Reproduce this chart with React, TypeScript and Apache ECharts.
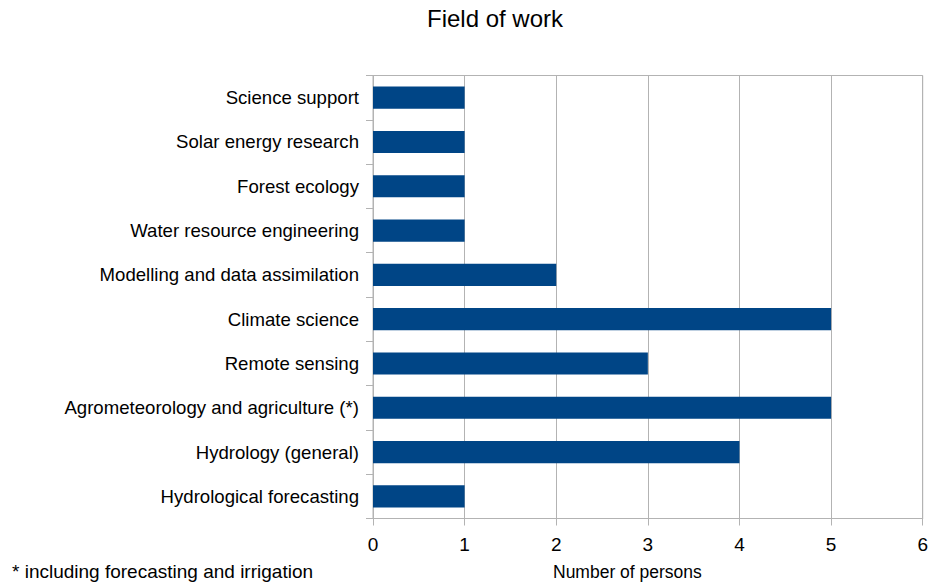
import React, { useEffect, useRef } from "react";
import * as echarts from "echarts";

const categories = [
  "Hydrological forecasting",
  "Hydrology (general)",
  "Agrometeorology and agriculture (*)",
  "Remote sensing",
  "Climate science",
  "Modelling and data assimilation",
  "Water resource engineering",
  "Forest ecology",
  "Solar energy research",
  "Science support",
];
const persons = [1, 4, 5, 3, 5, 2, 1, 1, 1, 1];

const FONT = "Liberation Sans, Arial, sans-serif";

export default function App() {
  const ref = useRef<HTMLDivElement>(null);
  useEffect(() => {
    if (!ref.current) return;
    const chart = echarts.init(ref.current, undefined, { renderer: "svg" });
    chart.setOption({
      animation: false,
      backgroundColor: "#ffffff",
      grid: {
        left: 373,
        right: 6.5,
        top: 75.5,
        height: 443,
        show: true,
        borderColor: "#b3b3b3",
        borderWidth: 1,
        containLabel: false,
      },
      xAxis: {
        type: "value",
        min: 0,
        max: 6,
        interval: 1,
        axisLine: { show: true, lineStyle: { color: "#b3b3b3" } },
        axisTick: { show: true, length: 7, lineStyle: { color: "#b3b3b3" } },
        splitLine: { show: true, lineStyle: { color: "#b3b3b3" } },
        axisLabel: { fontFamily: FONT, fontSize: 19, color: "#000", margin: 16 },
      },
      yAxis: {
        type: "category",
        data: categories,
        axisLine: { show: true, lineStyle: { color: "#b3b3b3" } },
        axisTick: { show: true, length: 7, lineStyle: { color: "#b3b3b3" } },
        axisLabel: { fontFamily: FONT, fontSize: 18.6, color: "#000", margin: 14 },
      },
      series: [
        {
          type: "bar",
          data: persons,
          barWidth: "50%",
          itemStyle: { color: "#004586" },
        },
      ],
      graphic: [
        {
          type: "text",
          x: 495,
          y: 18,
          style: {
            text: "Field of work",
            fontFamily: FONT,
            fontSize: 24,
            fill: "#000",
            textAlign: "center",
            textVerticalAlign: "middle",
          },
        },
        {
          type: "text",
          x: 12,
          y: 571,
          style: {
            text: "* including forecasting and irrigation",
            fontFamily: FONT,
            fontSize: 19,
            fill: "#000",
            textVerticalAlign: "middle",
          },
        },
        {
          type: "text",
          x: 553,
          y: 572,
          style: {
            text: "Number of persons",
            fontFamily: FONT,
            fontSize: 17.5,
            fill: "#000",
            textVerticalAlign: "middle",
          },
        },
      ],
    });
    return () => chart.dispose();
  }, []);
  return <div ref={ref} style={{ width: 931, height: 585, position: "absolute", left: 0, top: 0 }} />;
}
